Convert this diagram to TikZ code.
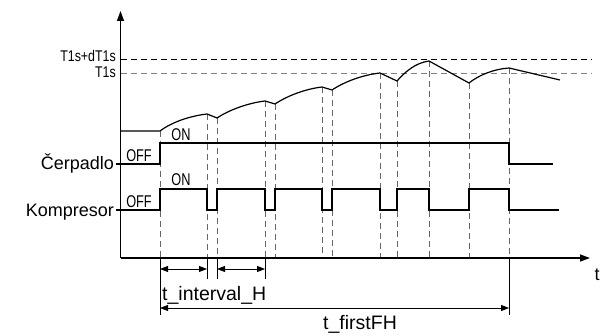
\documentclass[tikz,border=0pt]{standalone}
\usepackage{fontspec}
\setmainfont{Liberation Sans}
\usepackage{graphicx}
\usetikzlibrary{arrows.meta}
\newcommand\condtxt[1]{\scalebox{0.75}[1]{#1}}
\newcommand\condtxtb[1]{\scalebox{0.8}[1]{#1}}
\begin{document}
\begin{tikzpicture}[x=1pt,y=-1pt,
  axisline/.style={line width=1.4pt,-{Triangle[length=10pt,width=7pt]}},
  sig/.style={line width=1.2pt},
  guide/.style={dash pattern=on 6pt off 4pt,line width=0.9pt,black!60},
  hguide/.style={dash pattern=on 6pt off 4pt,line width=1pt},
  dimline/.style={line width=0.9pt,{Triangle[length=8pt,width=6pt]}-{Triangle[length=8pt,width=6pt]}},
  tickline/.style={line width=0.9pt},
  lbl/.style={inner sep=0pt,font=\fontsize{18}{18}\selectfont},
  small/.style={inner sep=0pt,font=\fontsize{17}{17}\selectfont},
  thr/.style={inner sep=0pt,font=\fontsize{15.5}{15.5}\selectfont},
  dimlbl/.style={inner sep=0pt,font=\fontsize{19.5}{19.5}\selectfont}]
\useasboundingbox (0,0) rectangle (608,336);
% axes
\coordinate (O) at (120.5,258);
\coordinate (Ytop) at (120.5,11);
\coordinate (Xend) at (590,258);
% threshold lines
\coordinate (H1a) at (121,60);  \coordinate (H1b) at (592,60);
\coordinate (H2a) at (121,74);  \coordinate (H2b) at (592,74);
\draw[hguide,black] (H1a) -- (H1b);
\draw[hguide,black!50] (H2a) -- (H2b);
\node[thr,anchor=base east] (lT1sd) at (116,62) {\condtxtb{T1s+dT1s}};
\node[thr,anchor=base east] (lT1s) at (116,78) {\condtxtb{T1s}};
% curve points
\coordinate (c0) at (160,131);
\coordinate (c1) at (207,114);
\coordinate (c2) at (217,118);
\coordinate (c3) at (265,101);
\coordinate (c4) at (275,104);
\coordinate (c5) at (322,87);
\coordinate (c6) at (332,90);
\coordinate (c7) at (380,73);
\coordinate (c8) at (397,81);
\coordinate (c9) at (429,61);
\coordinate (c10) at (469,83);
\coordinate (c11) at (509,68);
\coordinate (c12) at (560,80);
% vertical guides
\foreach \p in {c0,c1,c2,c3,c4,c5,c6,c7,c8,c9,c10,c11}
  \draw[guide] (\p) -- (\p |- O);
% temperature curve
\draw[sig] (O |- c0) -- (c0)
  .. controls (172,122) and (190,116) .. (c1) -- (c2)
  .. controls (229,110) and (248,103) .. (c3) -- (c4)
  .. controls (287,96) and (305,89) .. (c5) -- (c6)
  .. controls (344,82) and (362,75) .. (c7) -- (c8)
  .. controls (405,72) and (415,63) .. (c9) -- (c10)
  .. controls (479,75) and (494,69) .. (c11) -- (c12);
% pump signal
\draw[sig] (116,164) -- (160,164) -- (160,143) -- (509,143) -- (509,164) -- (553,164);
\node[small,anchor=base] (pOFF) at (139,161.5) {\condtxt{OFF}};
\node[small,anchor=base] (pON) at (181,140.5) {\condtxt{ON}};
\node[lbl,anchor=east] (pump) at (114,164) {Čerpadlo};
% compressor signal
\draw[sig] (116,210) -- (160,210) -- (160,189)
  -- (207,189) -- (207,210) -- (217,210) -- (217,189)
  -- (265,189) -- (265,210) -- (275,210) -- (275,189)
  -- (322,189) -- (322,210) -- (332,210) -- (332,189)
  -- (380,189) -- (380,210) -- (397,210) -- (397,189)
  -- (429,189) -- (429,210) -- (469,210) -- (469,189)
  -- (509,189) -- (509,210) -- (559,210);
\node[small,anchor=base] (kOFF) at (139,207.5) {\condtxt{OFF}};
\node[small,anchor=base] (kON) at (181,185.5) {\condtxt{ON}};
\node[lbl,anchor=east] (comp) at (114,212) {Kompresor};
% axes on top
\draw[axisline] (O) -- (Ytop);
\draw[axisline] (O) -- (Xend);
\node[lbl] (tlabel) at (597,275) {t};
% dimension ticks
\coordinate (d0a) at (160,258); \coordinate (d0b) at (160,315);
\coordinate (d1a) at (207,258); \coordinate (d1b) at (207,279);
\coordinate (d2a) at (217,258); \coordinate (d2b) at (217,279);
\coordinate (d3a) at (265,258); \coordinate (d3b) at (265,279);
\coordinate (d4a) at (509,258); \coordinate (d4b) at (509,315);
\foreach \a/\b in {d0a/d0b,d1a/d1b,d2a/d2b,d3a/d3b,d4a/d4b}
  \draw[tickline] (\a) -- (\b);
\draw[dimline] (d0a |- 0,269) -- (d1a |- 0,269);
\draw[dimline] (d2a |- 0,269) -- (d3a |- 0,269);
\draw[dimline] (d0a |- 0,308) -- (d4a |- 0,308);
\node[dimlbl,anchor=base west] (tint) at (162,301) {t\_interval\_H};
\node[dimlbl,anchor=base] (tfirst) at (360,330) {t\_firstFH};
\end{tikzpicture}
\end{document}
